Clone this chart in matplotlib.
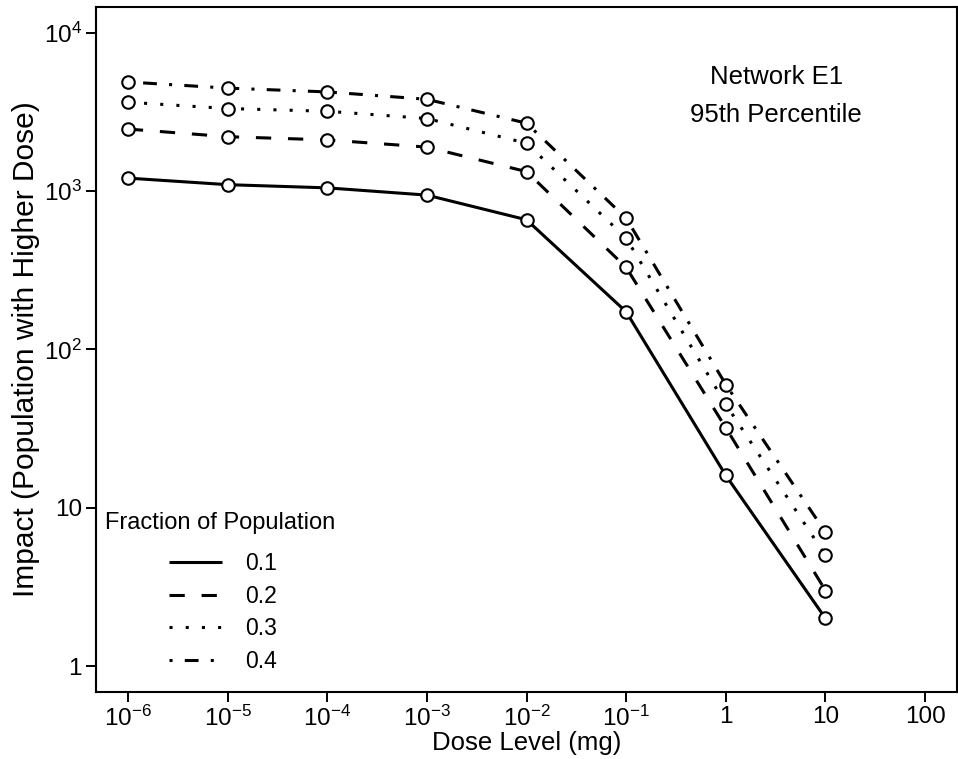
import matplotlib

matplotlib.use("Agg")
import matplotlib.pyplot as plt
import numpy as np
from matplotlib.lines import Line2D

plt.rcParams["font.family"] = ["Liberation Sans", "DejaVu Sans"]
plt.rcParams["mathtext.fontset"] = "custom"
plt.rcParams["mathtext.rm"] = "Liberation Sans"
plt.rcParams["mathtext.it"] = "Liberation Sans:italic"

# dose levels (mg)
dose = [1e-6, 1e-5, 1e-4, 1e-3, 1e-2, 1e-1, 1, 10]

# impact (95th percentile) for each fraction of population
impact_01 = [1210, 1100, 1050, 945, 660, 173, 16, 2]
impact_02 = [2470, 2210, 2110, 1900, 1330, 330, 32, 3]
impact_03 = [3650, 3330, 3200, 2880, 2010, 505, 45, 5]
impact_04 = [4900, 4480, 4240, 3810, 2690, 675, 60, 7]
fractions = ["0.1", "0.2", "0.3", "0.4"]

x_ticks = [1e-6, 1e-5, 1e-4, 1e-3, 1e-2, 1e-1, 1, 10, 100]
x_ticklabels = ["$10^{-6}$", "$10^{-5}$", "$10^{-4}$", "$10^{-3}$", "$10^{-2}$",
                "$10^{-1}$", "1", "10", "100"]
y_ticks = [1, 10, 100, 1000, 10000]
y_ticklabels = ["1", "10", "$10^2$", "$10^3$", "$10^4$"]

styles = [
    (0, ()),
    (0, (5, 5.5)),
    (0, (1, 4.3)),
    (0, (1, 4, 4.5, 4)),
]

fig = plt.figure(figsize=(9.58, 7.59), dpi=100)
ax = fig.add_axes([0.1002, 0.0883, 0.8988, 0.9025])

handles = []
for vals, ls in zip([impact_01, impact_02, impact_03, impact_04], styles):
    ax.plot(dose, vals, color="black", lw=2.2, linestyle=ls,
            marker="o", markersize=9, markerfacecolor="white",
            markeredgecolor="black", markeredgewidth=1.5)
    handles.append(Line2D([], [], color="black", lw=2.2, linestyle=ls))

ax.set_xscale("log")
ax.set_yscale("log")
ax.set_xlim(10 ** -6.32, 10 ** 2.32)
ax.set_ylim(10 ** -0.164, 10 ** 4.164)
ax.set_xticks(x_ticks)
ax.set_xticklabels(x_ticklabels)
ax.set_yticks(y_ticks)
ax.set_yticklabels(y_ticklabels)
ax.minorticks_off()
ax.tick_params(axis="both", labelsize=17.5, length=7, width=1.4, pad=3)
for s in ax.spines.values():
    s.set_linewidth(1.5)

ax.set_xlabel("Dose Level (mg)", fontsize=18.5, labelpad=0)
ax.set_ylabel("Impact (Population with Higher Dose)", fontsize=21.5, labelpad=3)

ax.text(0.79, 0.898, "Network E1", transform=ax.transAxes, ha="center",
        va="center", fontsize=18.5)
ax.text(0.79, 0.842, "95th Percentile", transform=ax.transAxes, ha="center",
        va="center", fontsize=18.5)

ax.text(0.010, 0.246, "Fraction of Population", transform=ax.transAxes,
        ha="left", va="center", fontsize=17)
ax.legend(handles, fractions, loc="upper left", bbox_to_anchor=(0.085, 0.204),
          frameon=False, fontsize=16.5, handlelength=2.3, handletextpad=1.0,
          labelspacing=0.42, borderpad=0, borderaxespad=0)

fig.savefig("out.png", dpi=100)
